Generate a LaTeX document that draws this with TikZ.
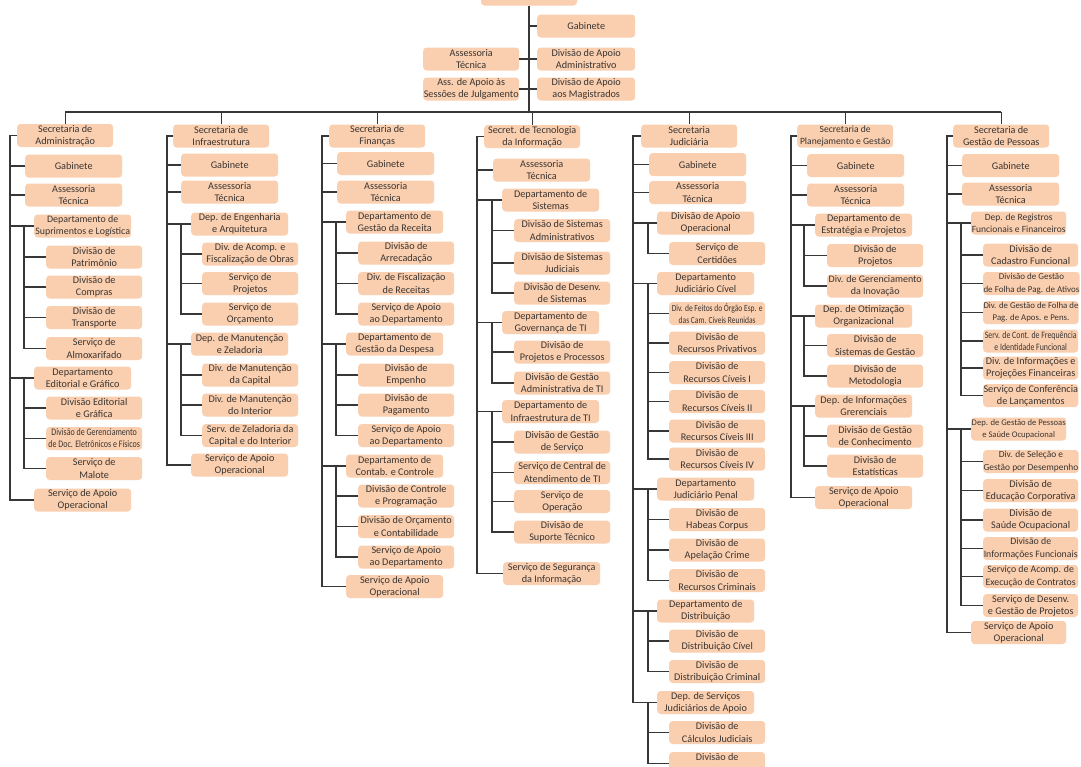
\documentclass[tikz,border=0pt]{standalone}
\usepackage{fontspec}
\setmainfont{Carlito}
\newfontfamily\condfont{Carlito}[FakeStretch=0.8]
\definecolor{boxc}{RGB}{250,207,176}
\definecolor{linec}{RGB}{55,55,55}
\definecolor{txtc}{RGB}{58,52,48}
\tikzset{
 box/.style={fill=boxc, rounded corners=3.5pt, minimum height=23pt, inner xsep=0.3pt, inner ysep=0.3pt, align=center, text=txtc, font=\fontsize{10.2}{12.3}\selectfont, anchor=west},
 secb/.style={box, minimum width=96pt},
 lvb/.style={box, minimum width=97pt},
 depb/.style={box, minimum width=97pt},
 subb/.style={box, minimum width=96pt},
 fsz/.style={font=\fontsize{#1}{12.3}\selectfont},
 condt/.style={font=\condfont\fontsize{#1}{12}\selectfont},
 conn/.style={draw=linec, line width=1.15pt},
}
\newcommand\lk[2]{\draw[conn] (#1.west) -- (#1.west -| #2);}
\newcommand\grp[3]{\draw[conn] (#1.west -| #2) -- (#3.west -| #2) -- (#3.west);}
\newcommand\mainln[3]{\draw[conn] (#1.west) -- (#1.west -| #2) -- (#3.west -| #2) -- (#3.west);}
\begin{document}
\begin{tikzpicture}[x=1pt,y=-1pt]
\clip (0,0) rectangle (1081,766);
\fill[white] (0,0) rectangle (1081,766);
\coordinate (bus) at (0,112);
% ---------- top ----------
\node[box, minimum width=96pt, anchor=center] (root) at (529,-6) {};
\node[box, minimum width=98pt] (tgab) at (537,26) {Gabinete};
\node[box, minimum width=96pt] (tass) at (423,59) {Assessoria\\Técnica};
\node[box, minimum width=98pt] (tadm) at (537,59) {Divisão de Apoio\\Administrativo};
\node[box, minimum width=96pt] (tapo) at (423,89) {Ass. de Apoio às\\Sessões de Julgamento};
\node[box, minimum width=98pt] (tmag) at (537,89) {Divisão de Apoio\\aos Magistrados};
\draw[conn] (root.south) -- (root.south |- bus);
\lk{tgab}{root.south}
\draw[conn] (tass.east) -- (tadm.west);
\draw[conn] (tapo.east) -- (tmag.west);
% ---------- column 1 ----------
\coordinate (c1L) at (10,0); \coordinate (c1S) at (24,0);
\node[secb] (c1sec) at (17,135.5) {Secretaria de\\Administração};
\node[lvb] (c1gab) at (25,166) {Gabinete};
\node[lvb] (c1ass) at (25,195) {Assessoria\\Técnica};
\node[depb,fsz=9.9] (c1d1) at (34,226) {Departamento de\\Suprimentos e Logística};
\node[subb] (c1d1a) at (46,257) {Divisão de\\Patrimônio};
\node[subb] (c1d1b) at (46,287) {Divisão de\\Compras};
\node[subb] (c1d1c) at (46,317.5) {Divisão de\\Transporte};
\node[subb] (c1d1d) at (46,348.5) {Serviço de\\Almoxarifado};
\node[depb] (c1d2) at (34,378) {Departamento\\Editorial e Gráfico};
\node[subb] (c1d2a) at (46,408) {Divisão Editorial\\e Gráfica};
\node[subb,condt=10] (c1d2b) at (46,438.5) {Divisão de Gerenciamento\\de Doc. Eletrônicos e Físicos};
\node[subb] (c1d2c) at (46,468.5) {Serviço de\\Malote};
\node[depb] (c1last) at (34,500) {Serviço de Apoio\\Operacional};
\mainln{c1sec}{c1L}{c1last}
\lk{c1gab}{c1L} \lk{c1ass}{c1L} \lk{c1d1}{c1L} \lk{c1d2}{c1L}
\grp{c1d1}{c1S}{c1d1d} \lk{c1d1a}{c1S} \lk{c1d1b}{c1S} \lk{c1d1c}{c1S}
\grp{c1d2}{c1S}{c1d2c} \lk{c1d2a}{c1S} \lk{c1d2b}{c1S}
% ---------- column 2 ----------
\coordinate (c2L) at (167,0); \coordinate (c2S) at (181,0);
\node[secb] (c2sec) at (173,136) {Secretaria de\\Infraestrutura};
\node[lvb] (c2gab) at (181,165) {Gabinete};
\node[lvb] (c2ass) at (181,192) {Assessoria\\Técnica};
\node[depb] (c2d1) at (191,224) {Dep. de Engenharia\\e Arquitetura};
\node[subb] (c2d1a) at (202,254) {Div. de Acomp. e\\Fiscalização de Obras};
\node[subb] (c2d1b) at (202,283.5) {Serviço de\\Projetos};
\node[subb] (c2d1c) at (202,314) {Serviço de\\Orçamento};
\node[depb] (c2d2) at (191,344) {Dep. de Manutenção\\e Zeladoria};
\node[subb] (c2d2a) at (202,375) {Div. de Manutenção\\da Capital};
\node[subb] (c2d2b) at (202,405) {Div. de Manutenção\\do Interior};
\node[subb] (c2d2c) at (202,435.5) {Serv. de Zeladoria da\\Capital e do Interior};
\node[depb] (c2last) at (191,465) {Serviço de Apoio\\Operacional};
\mainln{c2sec}{c2L}{c2last}
\lk{c2gab}{c2L} \lk{c2ass}{c2L} \lk{c2d1}{c2L} \lk{c2d2}{c2L}
\grp{c2d1}{c2S}{c2d1c} \lk{c2d1a}{c2S} \lk{c2d1b}{c2S}
\grp{c2d2}{c2S}{c2d2c} \lk{c2d2a}{c2S} \lk{c2d2b}{c2S}
% ---------- column 3 ----------
\coordinate (c3L) at (322,0); \coordinate (c3S) at (336,0);
\node[secb] (c3sec) at (329,136) {Secretaria de\\Finanças};
\node[lvb] (c3gab) at (337,163.5) {Gabinete};
\node[lvb] (c3ass) at (337,192) {Assessoria\\Técnica};
\node[depb] (c3d1) at (346,222) {Departamento de\\Gestão da Receita};
\node[subb] (c3d1a) at (358,253) {Divisão de\\Arrecadação};
\node[subb] (c3d1b) at (358,283.5) {Div. de Fiscalização\\de Receitas};
\node[subb] (c3d1c) at (358,314) {Serviço de Apoio\\ao Departamento};
\node[depb] (c3d2) at (346,344) {Departamento de\\Gestão da Despesa};
\node[subb] (c3d2a) at (358,375) {Divisão de\\Empenho};
\node[subb] (c3d2b) at (358,405) {Divisão de\\Pagamento};
\node[subb] (c3d2c) at (358,435.5) {Serviço de Apoio\\ao Departamento};
\node[depb] (c3d3) at (346,466) {Departamento de\\Contab. e Controle};
\node[subb] (c3d3a) at (358,496) {Divisão de Controle\\e Programação};
\node[subb] (c3d3b) at (358,526.5) {Divisão de Orçamento\\e Contabilidade};
\node[subb] (c3d3c) at (358,557) {Serviço de Apoio\\ao Departamento};
\node[depb] (c3last) at (346,586.5) {Serviço de Apoio\\Operacional};
\mainln{c3sec}{c3L}{c3last}
\lk{c3gab}{c3L} \lk{c3ass}{c3L} \lk{c3d1}{c3L} \lk{c3d2}{c3L} \lk{c3d3}{c3L}
\grp{c3d1}{c3S}{c3d1c} \lk{c3d1a}{c3S} \lk{c3d1b}{c3S}
\grp{c3d2}{c3S}{c3d2c} \lk{c3d2a}{c3S} \lk{c3d2b}{c3S}
\grp{c3d3}{c3S}{c3d3c} \lk{c3d3a}{c3S} \lk{c3d3b}{c3S}
% ---------- column 4 ----------
\coordinate (c4L) at (477,0); \coordinate (c4S) at (492,0);
\node[secb] (c4sec) at (484,136.5) {Secret. de Tecnologia\\da Informação};
\node[lvb] (c4ass) at (493,170) {Assessoria\\Técnica};
\node[depb] (c4d1) at (502,200) {Departamento de\\Sistemas};
\node[subb] (c4d1a) at (514,230.5) {Divisão de Sistemas\\Administrativos};
\node[subb] (c4d1b) at (514,263) {Divisão de Sistemas\\Judiciais};
\node[subb] (c4d1c) at (514,293) {Divisão de Desenv.\\de Sistemas};
\node[depb] (c4d2) at (502,322.5) {Departamento de\\Governança de TI};
\node[subb] (c4d2a) at (514,352) {Divisão de\\Projetos e Processos};
\node[subb] (c4d2b) at (514,383) {Divisão de Gestão\\Administrativa de TI};
\node[depb] (c4d3) at (502,411.5) {Departamento de\\Infraestrutura de TI};
\node[subb] (c4d3a) at (514,442) {Divisão de Gestão\\de Serviço};
\node[subb] (c4d3b) at (514,472.5) {Serviço de Central de\\Atendimento de TI};
\node[subb] (c4d3c) at (514,501.5) {Serviço de\\Operação};
\node[subb] (c4d3d) at (514,532) {Divisão de\\Suporte Técnico};
\node[depb] (c4last) at (503,573.5) {Serviço de Segurança\\da Informação};
\mainln{c4sec}{c4L}{c4last}
\lk{c4ass}{c4L} \lk{c4d1}{c4L} \lk{c4d2}{c4L} \lk{c4d3}{c4L}
\grp{c4d1}{c4S}{c4d1c} \lk{c4d1a}{c4S} \lk{c4d1b}{c4S}
\grp{c4d2}{c4S}{c4d2b} \lk{c4d2a}{c4S}
\grp{c4d3}{c4S}{c4d3d} \lk{c4d3a}{c4S} \lk{c4d3b}{c4S} \lk{c4d3c}{c4S}
% ---------- column 5 ----------
\coordinate (c5L) at (633,0); \coordinate (c5S) at (648,0);
\node[secb] (c5sec) at (641,136) {Secretaria\\Judiciária};
\node[lvb] (c5gab) at (649,164.5) {Gabinete};
\node[lvb] (c5ass) at (649,192.5) {Assessoria\\Técnica};
\node[depb] (c5d0) at (657,223) {Divisão de Apoio\\Operacional};
\node[subb] (c5d0a) at (669,253.5) {Serviço de\\Certidões};
\node[depb] (c5d1) at (657,283.5) {Departamento\\Judiciário Cível};
\node[subb,condt=9.4] (c5d1a) at (669,313.5) {Div. de Feitos do Órgão Esp. e\\das Cam. Cíveis Reunidas};
\node[subb] (c5d1b) at (669,343) {Divisão de\\Recursos Privativos};
\node[subb] (c5d1c) at (669,372.5) {Divisão de\\Recursos Cíveis I};
\node[subb] (c5d1d) at (669,401.5) {Divisão de\\Recursos Cíveis II};
\node[subb] (c5d1e) at (669,431) {Divisão de\\Recursos Cíveis III};
\node[subb] (c5d1f) at (669,459) {Divisão de\\Recursos Cíveis IV};
\node[depb] (c5d2) at (657,489) {Departamento\\Judiciário Penal};
\node[subb] (c5d2a) at (669,519.5) {Divisão de\\Habeas Corpus};
\node[subb] (c5d2b) at (669,550) {Divisão de\\Apelação Crime};
\node[subb] (c5d2c) at (669,580.5) {Divisão de\\Recursos Criminais};
\node[depb] (c5d3) at (657,611) {Departamento de\\Distribuição};
\node[subb] (c5d3a) at (669,641) {Divisão de\\Distribuição Cível};
\node[subb] (c5d3b) at (669,671.5) {Divisão de\\Distribuição Criminal};
\node[depb] (c5d4) at (657,702.5) {Dep. de Serviços\\Judiciários de Apoio};
\node[subb] (c5d4a) at (669,732.5) {Divisão de\\Cálculos Judiciais};
\node[subb] (c5d4b) at (669,763.5) {Divisão de\\\phantom{Cálculos}};
\mainln{c5sec}{c5L}{c5d4}
\lk{c5gab}{c5L} \lk{c5ass}{c5L} \lk{c5d0}{c5L} \lk{c5d1}{c5L} \lk{c5d2}{c5L} \lk{c5d3}{c5L}
\grp{c5d0}{c5S}{c5d0a}
\grp{c5d1}{c5S}{c5d1f} \lk{c5d1a}{c5S} \lk{c5d1b}{c5S} \lk{c5d1c}{c5S} \lk{c5d1d}{c5S} \lk{c5d1e}{c5S}
\grp{c5d2}{c5S}{c5d2c} \lk{c5d2a}{c5S} \lk{c5d2b}{c5S}
\grp{c5d3}{c5S}{c5d3b} \lk{c5d3a}{c5S}
\grp{c5d4}{c5S}{c5d4b} \lk{c5d4a}{c5S}
% ---------- column 6 ----------
\coordinate (c6L) at (791,0); \coordinate (c6S) at (804,0);
\node[secb,fsz=9.6] (c6sec) at (797,136) {Secretaria de\\Planejamento e Gestão};
\node[lvb] (c6gab) at (807,165.5) {Gabinete};
\node[lvb] (c6ass) at (807,195) {Assessoria\\Técnica};
\node[depb] (c6d1) at (815,225) {Departamento de\\Estratégia e Projetos};
\node[subb] (c6d1a) at (827,255.5) {Divisão de\\Projetos};
\node[subb,fsz=10] (c6d1b) at (827,286) {Div. de Gerenciamento\\da Inovação};
\node[depb] (c6d2) at (815,316) {Dep. de Otimização\\Organizacional};
\node[subb] (c6d2a) at (827,345.5) {Divisão de\\Sistemas de Gestão};
\node[subb] (c6d2b) at (827,376) {Divisão de\\Metodologia};
\node[depb] (c6d3) at (815,406) {Dep. de Informações\\Grerenciais};
\node[subb] (c6d3a) at (827,436) {Divisão de Gestão\\de Conhecimento};
\node[subb] (c6d3b) at (827,466) {Divisão de\\Estatísticas};
\node[depb] (c6last) at (815,497.5) {Serviço de Apoio\\Operacional};
\mainln{c6sec}{c6L}{c6last}
\lk{c6gab}{c6L} \lk{c6ass}{c6L} \lk{c6d1}{c6L} \lk{c6d2}{c6L} \lk{c6d3}{c6L}
\grp{c6d1}{c6S}{c6d1b} \lk{c6d1a}{c6S}
\grp{c6d2}{c6S}{c6d2b} \lk{c6d2a}{c6S}
\grp{c6d3}{c6S}{c6d3b} \lk{c6d3a}{c6S}
% ---------- column 7 ----------
\coordinate (c7L) at (947,0); \coordinate (c7S) at (961,0);
\node[secb] (c7sec) at (953,136) {Secretaria de\\Gestão de Pessoas};
\node[lvb] (c7gab) at (962,165.5) {Gabinete};
\node[lvb] (c7ass) at (962,194) {Assessoria\\Técnica};
\node[depb,fsz=9.5,minimum width=95pt] (c7d1) at (971,223) {Dep. de Registros\\Funcionais e Financeiros};
\node[subb,minimum width=95pt] (c7d1a) at (983,255) {Divisão de\\Cadastro Funcional};
\node[subb,fsz=9,minimum width=95pt] (c7d1b) at (983,283.5) {Divisão de Gestão\\de Folha de Pag. de Ativos};
\node[subb,fsz=8.8,minimum width=95pt] (c7d1c) at (983,312.5) {Div. de Gestão de Folha de\\Pag. de Apos. e Pens.};
\node[subb,condt=9.8,minimum width=95pt] (c7d1d) at (983,341) {Serv. de Cont. de Frequência\\e Identidade Funcional};
\node[subb,minimum width=95pt] (c7d1e) at (983,368) {Div. de Informações e\\Projeções Financeiras};
\node[subb,minimum width=95pt] (c7d1f) at (983,395.5) {Serviço de Conferência\\de Lançamentos};
\node[depb,fsz=8.6,minimum width=95pt] (c7d2) at (971,429) {Dep. de Gestão de Pessoas\\e Saúde Ocupacional};
\node[subb,fsz=9.4,minimum width=95pt] (c7d2a) at (983,461.5) {Div. de Seleção e\\Gestão por Desempenho};
\node[subb,minimum width=95pt] (c7d2b) at (983,490.5) {Divisão de\\Educação Corporativa};
\node[subb,minimum width=95pt] (c7d2c) at (983,520) {Divisão de\\Saúde Ocupacional};
\node[subb,fsz=9.8,minimum width=95pt] (c7d2d) at (983,548.5) {Divisão de\\Informações Funcionais};
\node[subb,fsz=9.8,minimum width=95pt] (c7d2e) at (983,576.5) {Serviço de Acomp. de\\Execução de Contratos};
\node[subb,minimum width=95pt] (c7d2f) at (983,605.5) {Serviço de Desenv.\\e Gestão de Projetos};
\node[depb,minimum width=95pt] (c7last) at (971,632.5) {Serviço de Apoio\\Operacional};
\mainln{c7sec}{c7L}{c7last}
\lk{c7gab}{c7L} \lk{c7ass}{c7L} \lk{c7d1}{c7L} \lk{c7d2}{c7L}
\grp{c7d1}{c7S}{c7d1f} \lk{c7d1a}{c7S} \lk{c7d1b}{c7S} \lk{c7d1c}{c7S} \lk{c7d1d}{c7S} \lk{c7d1e}{c7S}
\grp{c7d2}{c7S}{c7d2f} \lk{c7d2a}{c7S} \lk{c7d2b}{c7S} \lk{c7d2c}{c7S} \lk{c7d2d}{c7S} \lk{c7d2e}{c7S}
% ---------- bus and drops ----------
\draw[conn] (c1sec.north |- bus) -- (c7sec.north |- bus);
\foreach \c in {c1sec,c2sec,c3sec,c4sec,c5sec,c6sec,c7sec}{
  \draw[conn] (\c.north) -- (\c.north |- bus);
}
\end{tikzpicture}
\end{document}
